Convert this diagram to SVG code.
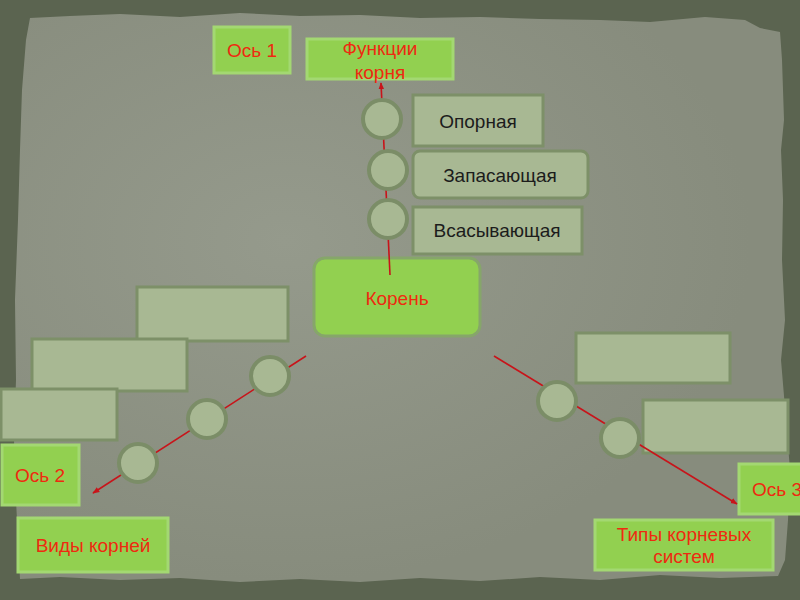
<svg xmlns="http://www.w3.org/2000/svg" width="800" height="600" viewBox="0 0 800 600">
<defs>
<style>
.green{fill:#92d050;stroke:#a3d872;stroke-width:3}
.pale{fill:#a8b893;stroke:#7d9068;stroke-width:3}
.circ{fill:#a8b893;stroke:#7b8d67;stroke-width:4}
.red{font-family:"Liberation Sans",Arial,sans-serif;font-size:19px;fill:#ee2a10;text-anchor:middle}
.blk{font-family:"Liberation Sans",Arial,sans-serif;font-size:19px;fill:#1c1c1c;text-anchor:middle}
.con{stroke:#c8141a;stroke-width:1.6;fill:none}
</style>
<marker id="ah" viewBox="0 0 10 10" refX="9" refY="5" markerWidth="7" markerHeight="7" orient="auto" markerUnits="userSpaceOnUse">
<path d="M0,1 L10,5 L0,9 Z" fill="#c8141a"/>
</marker>
<radialGradient id="glow" cx="0.35" cy="0.4" r="0.6">
<stop offset="0" stop-color="#959a8c"/>
<stop offset="1" stop-color="#878c7d"/>
</radialGradient>
</defs>
<rect width="800" height="600" fill="#5b6450"/>
<path d="M30,18 L70,16 L120,14 L180,17 L240,13 L300,16 L360,15 L420,18 L480,17 L540,19 L600,20 L650,22 L705,17 L745,20 L760,28 L780,32 L782,60 L784,120 L781,150 L783,200 L782,260 L785,320 L781,360 L786,420 L790,470 L788,520 L785,560 L778,576 L720,578 L660,575 L600,580 L540,577 L480,581 L420,578 L360,582 L300,579 L240,582 L180,578 L120,580 L60,577 L20,579 L18,540 L16,500 L14,440 L16,380 L15,300 L18,220 L20,150 L22,90 L26,40 Z" fill="url(#glow)"/>
<g id="os1"><rect class="green" x="214" y="27" width="76" height="46"/><text class="red" x="252" y="57">Ось 1</text></g>
<g id="funktsii"><rect class="green" x="307" y="39" width="146" height="40"/><text class="red" x="380" y="55">Функции</text><text class="red" x="380" y="79">корня</text></g>
<g id="opornaya"><rect class="pale" x="413" y="95" width="130" height="51"/><text class="blk" x="478" y="128">Опорная</text></g>
<g id="zapasayushchaya"><rect class="pale" x="413" y="151" width="175" height="47" rx="7"/><text class="blk" x="500" y="182">Запасающая</text></g>
<g id="vsasyvayushchaya"><rect class="pale" x="413" y="207" width="169" height="47"/><text class="blk" x="497" y="237">Всасывающая</text></g>
<g id="koren"><rect class="green" x="314" y="258" width="166" height="78" rx="11" style="stroke:#86a66a"/><text class="red" x="397" y="305">Корень</text></g>
<g id="box-l1"><rect class="pale" x="137" y="287" width="151" height="54"/></g>
<g id="box-l2"><rect class="pale" x="32" y="339" width="155" height="52"/></g>
<g id="box-l3"><rect class="pale" x="1" y="389" width="116" height="51"/></g>
<g id="os2"><rect class="green" x="2" y="445" width="77" height="60"/><text class="red" x="40" y="482">Ось 2</text></g>
<g id="vidy"><rect class="green" x="18" y="518" width="150" height="54"/><text class="red" x="93" y="552">Виды корней</text></g>
<g id="box-r1"><rect class="pale" x="576" y="333" width="154" height="50"/></g>
<g id="box-r2"><rect class="pale" x="643" y="400" width="145" height="53"/></g>
<g id="os3"><rect class="green" x="739" y="464" width="78" height="50"/><text class="red" x="777" y="496">Ось 3</text></g>
<g id="tipy"><rect class="green" x="595" y="520" width="178" height="50"/><text class="red" x="684" y="541">Типы корневых</text><text class="red" x="684" y="563">систем</text></g>
<g id="connectors">
<line class="con" x1="390" y1="275" x2="381" y2="83" marker-end="url(#ah)"/>
<line class="con" x1="306" y1="356" x2="93" y2="493" marker-end="url(#ah)"/>
<line class="con" x1="494" y1="356" x2="737" y2="504" marker-end="url(#ah)"/>
</g>
<g id="c1"><circle class="circ" cx="382" cy="119" r="19"/></g>
<g id="c2"><circle class="circ" cx="388" cy="170" r="19"/></g>
<g id="c3"><circle class="circ" cx="388" cy="219" r="19"/></g>
<g id="c4"><circle class="circ" cx="270" cy="376" r="19"/></g>
<g id="c5"><circle class="circ" cx="207" cy="419" r="19"/></g>
<g id="c6"><circle class="circ" cx="138" cy="463" r="19"/></g>
<g id="c7"><circle class="circ" cx="557" cy="401" r="19"/></g>
<g id="c8"><circle class="circ" cx="620" cy="438" r="19"/></g>
</svg>
